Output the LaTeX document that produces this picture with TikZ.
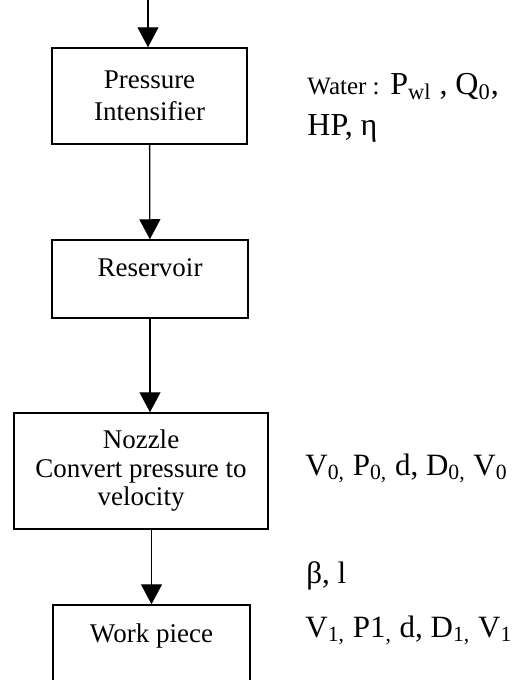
\documentclass[tikz,border=0pt]{standalone}
\usepackage{fontspec}
\setmainfont{Liberation Serif}
\usetikzlibrary{arrows.meta, positioning}

\begin{document}
\begin{tikzpicture}[
  x=0.5pt, y=-0.5pt,
  block/.style={rectangle, draw=black, line width=0.75pt, align=center,
    inner sep=0pt, font=\fontsize{13.5}{15}\selectfont},
  flow/.style={-{Triangle[length=10pt, width=10.5pt]}, line width=0.65pt},
  param/.style={anchor=base west, inner sep=0pt,
    font=\fontsize{15.5}{18}\selectfont}
]
  \useasboundingbox (0,0) rectangle (515,680);
  \clip (0,0) rectangle (515,680);

  \node[block, minimum width=97.5pt, minimum height=48pt,
    font=\fontsize{13.5}{16}\selectfont] (intens) at (149.5,96)
    {Pressure\\Intensifier};
  \node[block, minimum width=98pt, minimum height=39pt,
    text depth=11pt] (reserv) at (150,279) {Reservoir};
  \node[block, minimum width=127pt, minimum height=58pt,
    font=\fontsize{13.5}{14.25}\selectfont] (nozzle) at (141,471)
    {Nozzle\\Convert pressure to\\velocity};
  \node[block, minimum width=98.5pt, minimum height=57.5pt,
    text depth=29.5pt] (work) at (151.5,662.5) {Work piece};

  \coordinate (feed) at (148,0);
  \draw[flow] (feed) -- (feed |- intens.north);
  \draw[flow] (intens) -- (reserv);
  \draw[flow] (reserv.south) -- (reserv.south |- nozzle.north);
  \draw[flow] (work.north |- nozzle.south) -- (work.north);

  % parameters beside the blocks
  \node[param, font=\fontsize{16}{18}\selectfont] (water) at (307,94)
    {{\fontsize{12.5}{14}\selectfont Water :} P\textsubscript{wl} , Q\textsubscript{0},};
  \node[param, font=\fontsize{16}{18}\selectfont] (hp) at (307,135) {HP, η};
  \node[param] (nozvars) at (305,475)
    {V\textsubscript{0,} P\textsubscript{0,} d, D\textsubscript{0,} V\textsubscript{0}};
  \node[param] (jet) at (306,583) {β, l};
  \node[param] (workvars) at (305,637)
    {V\textsubscript{1,} P1\textsubscript{,} d, D\textsubscript{1,} V\textsubscript{1}};
\end{tikzpicture}
\end{document}
